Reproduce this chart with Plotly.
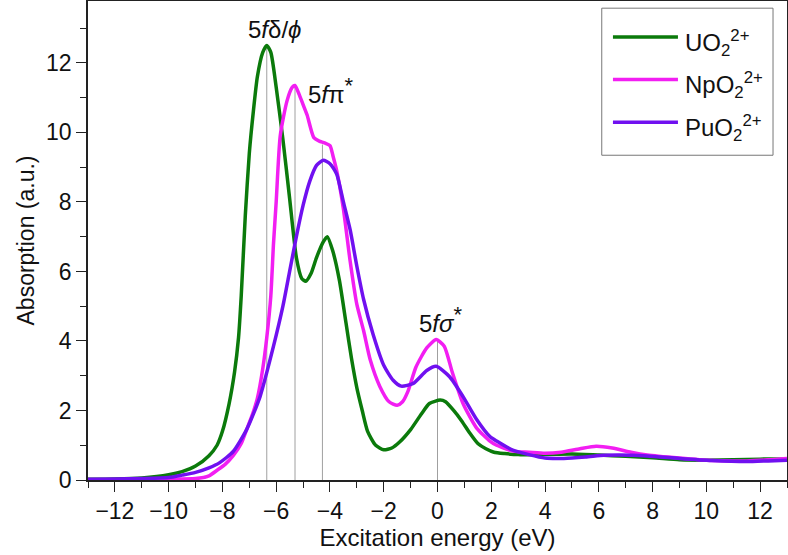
import plotly.graph_objects as go

# UO2 2+ (green)
uo2_x = [-13, -12, -11, -10, -9.5, -9, -8.5, -8.2, -8.0, -7.75, -7.55, -7.4, -7.3, -7.15,
         -7.0, -6.85, -6.7, -6.5, -6.35, -6.2, -6.0, -5.75, -5.5, -5.25, -5.05, -4.9, -4.7,
         -4.5, -4.25, -4.1, -3.9, -3.65, -3.4, -3.2, -3.0, -2.8, -2.6, -2.3, -2.0, -1.7,
         -1.4, -1.0, -0.6, -0.3, 0.1, 0.3, 0.6, 0.9, 1.2, 1.5, 1.8, 2.1, 2.5, 3.0, 4.0,
         5.0, 6.0, 7.0, 8.0, 9.0, 10.0, 11.0, 12.0, 13.0]
uo2_y = [0.02, 0.03, 0.06, 0.15, 0.24, 0.4, 0.7, 1.0, 1.4, 2.2, 3.1, 4.1, 5.3, 7.6,
         9.4, 10.6, 11.6, 12.3, 12.5, 12.3, 11.3, 9.8, 8.1, 6.4, 5.8, 5.72, 5.95,
         6.4, 6.85, 7.0, 6.6, 5.75, 4.5, 3.5, 2.65, 2.0, 1.4, 1.0, 0.87, 0.92,
         1.1, 1.45, 1.9, 2.2, 2.3, 2.25, 2.0, 1.7, 1.35, 1.05, 0.9, 0.8, 0.76, 0.73, 0.74,
         0.75, 0.72, 0.68, 0.64, 0.58, 0.57, 0.58, 0.6, 0.6]

# NpO2 2+ (magenta)
npo2_x = [-13, -12, -11, -10, -9, -8.5, -8.2, -7.9, -7.6, -7.3, -7.1, -6.9, -6.7, -6.5,
          -6.35, -6.2, -6.1, -6.0, -5.85, -5.6, -5.4, -5.3, -5.15, -5.0, -4.85, -4.6, -4.4,
          -4.2, -4.0, -3.88, -3.75, -3.5, -3.25, -3.0, -2.75, -2.5, -2.15, -1.8, -1.5, -1.3,
          -1.1, -0.8, -0.4, -0.05, 0.25, 0.55, 0.95, 1.45, 1.95, 2.2, 2.8, 3.4, 4.0, 4.6,
          5.3, 5.9, 6.5, 7.2, 7.8, 9.0, 10.2, 11.5, 12.3, 13.0]
npo2_y = [0.01, 0.01, 0.01, 0.02, 0.04, 0.12, 0.28, 0.45, 0.7, 1.05, 1.45, 1.85, 2.35, 3.2,
          4.1, 5.3, 6.8, 8.0, 9.9, 10.9, 11.3, 11.35, 11.1, 10.8, 10.5, 9.85, 9.75,
          9.7, 9.62, 9.3, 8.9, 7.8, 6.3, 5.05, 4.3, 3.45, 2.7, 2.25, 2.15, 2.25,
          2.55, 3.25, 3.8, 4.04, 3.85, 3.1, 2.2, 1.5, 1.12, 1.0, 0.83, 0.8, 0.77, 0.8,
          0.9, 0.97, 0.92, 0.8, 0.72, 0.63, 0.56, 0.55, 0.58, 0.62]

# PuO2 2+ (purple)
puo2_x = [-13, -12, -11, -10, -9.5, -9, -8.5, -8.1, -7.6, -7.1, -6.6, -6.1, -5.75, -5.5,
          -5.25, -5.0, -4.75, -4.5, -4.25, -4.0, -3.75, -3.5, -3.25, -3.0, -2.75, -2.4,
          -2.0, -1.65, -1.35, -0.9, -0.4, -0.05, 0.45, 0.95, 1.45, 1.95, 2.2, 2.8, 3.4,
          4.0, 4.7, 5.5, 6.2, 6.8, 7.8, 9.0, 10.2, 11.5, 12.3, 13.0]
puo2_y = [0.02, 0.03, 0.04, 0.07, 0.14, 0.22, 0.35, 0.5, 0.82, 1.45, 2.4, 3.85, 5.0, 6.0,
          7.0, 7.9, 8.6, 9.05, 9.2, 9.1, 8.8, 8.0, 7.2, 6.15, 5.2, 4.2,
          3.3, 2.87, 2.7, 2.78, 3.15, 3.27, 2.97, 2.4, 1.75, 1.25, 1.12, 0.86, 0.73,
          0.63, 0.62, 0.66, 0.71, 0.72, 0.69, 0.62, 0.56, 0.53, 0.55, 0.57]

# guide lines under the labelled peaks
guide_x = [-6.35, -5.3, -4.28, 0.0]
guide_top = [12.5, 11.35, 9.65, 4.04]

names = ["UO<sub>2</sub><sup>2+</sup>", "NpO<sub>2</sub><sup>2+</sup>", "PuO<sub>2</sub><sup>2+</sup>"]
colors = ["#0b7a0b", "#f21ef2", "#7010f0"]

FONT = "Liberation Sans, Arial, Helvetica, sans-serif"
STAR = "<sup><span style='font-size:22px'>*</span></sup>"

fig = go.Figure()

gx, gy = [], []
for x0, top in zip(guide_x, guide_top):
    gx += [x0, x0, None]
    gy += [0, top, None]
fig.add_trace(go.Scatter(x=gx, y=gy, mode="lines", showlegend=False, hoverinfo="skip",
                         line=dict(color="#a0a0a0", width=1)))

for name, xs, ys, col in zip(names, [uo2_x, npo2_x, puo2_x], [uo2_y, npo2_y, puo2_y], colors):
    fig.add_trace(go.Scatter(x=xs, y=ys, name=name, mode="lines", showlegend=False,
                             line=dict(color=col, width=3.5, shape="spline", smoothing=0.6)))

fig.add_annotation(x=-6.05, y=12.95, text="5<i>f</i>δ/<i>ϕ</i>", showarrow=False)
fig.add_annotation(x=-3.95, y=11.2, text="5<i>f</i>π" + STAR, showarrow=False)
fig.add_annotation(x=0.12, y=4.62, text="5<i>f</i><i>σ</i>" + STAR, showarrow=False)

# legend drawn by hand so the sample lines are long like the original
fig.add_shape(type="rect", xref="paper", yref="paper", x0=0.735, x1=0.980, y0=0.678, y1=0.985,
              line=dict(color="#777", width=1), fillcolor="white", layer="above")
for i, (name, col) in enumerate(zip(names, colors)):
    yy = 0.925 - i * 0.089
    fig.add_shape(type="line", xref="paper", yref="paper", x0=0.751, x1=0.844, y0=yy, y1=yy,
                  line=dict(color=col, width=3.5), layer="above")
    fig.add_annotation(xref="paper", yref="paper", x=0.851, y=yy - 0.012, text=name,
                       showarrow=False, xanchor="left", yanchor="middle", font=dict(size=24))

axis_common = dict(
    showline=True, linecolor="#222", linewidth=1.5, mirror=True,
    ticks="outside", ticklen=10, tickwidth=1.2, tickcolor="#222",
    showgrid=False, zeroline=False,
    tickfont=dict(size=23, color="#111"),
)

fig.update_xaxes(range=[-13, 13], dtick=2, tick0=0,
                 minor=dict(dtick=1, ticklen=6, ticks="outside", tickcolor="#222"),
                 title=dict(text="Excitation energy (eV)", font=dict(size=24), standoff=5),
                 **axis_common)
fig.update_yaxes(range=[0, 13.78], dtick=2, tick0=0,
                 minor=dict(dtick=1, ticklen=6, ticks="outside", tickcolor="#222"),
                 title=dict(text="Absorption (a.u.)", font=dict(size=23), standoff=5),
                 **axis_common)

fig.update_layout(
    width=788, height=555,
    margin=dict(l=88, r=1, t=1, b=75, autoexpand=False),
    paper_bgcolor="white", plot_bgcolor="white",
    font=dict(family=FONT, size=24, color="#111"),
    showlegend=False,
)

fig.write_html("out.html", config={"displayModeBar": False},
               post_script="document.body.style.margin='0';document.body.style.overflow='hidden';")
